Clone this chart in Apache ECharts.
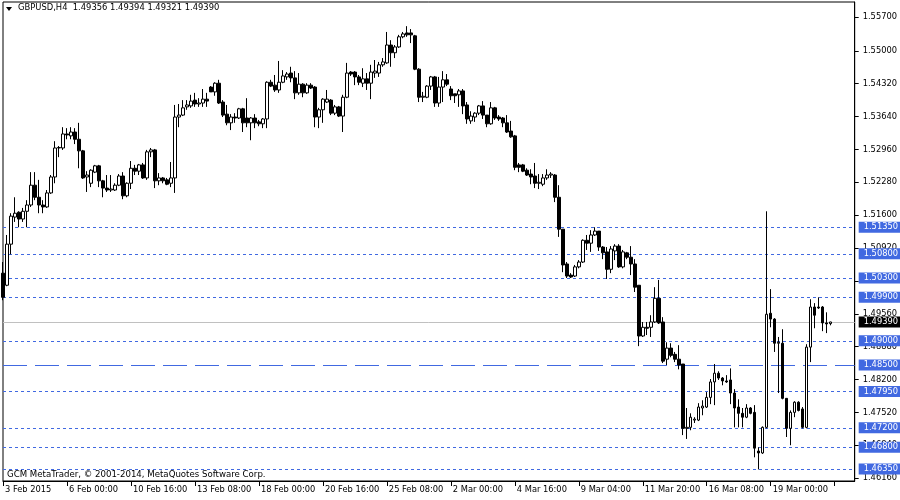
<!DOCTYPE html>
<html><head><meta charset="utf-8">
<script src="https://cdn.jsdelivr.net/npm/echarts@6/dist/echarts.min.js"></script>
<style>html,body{margin:0;padding:0;background:#fff}#c{width:900px;height:500px}</style>
</head><body><div id="c"></div>
<script>
const open=[1.5040,1.5015,1.5100,1.5156,1.5166,1.5152,1.5168,1.5181,1.5222,1.5197,
1.5181,1.5177,1.5206,1.5239,1.5299,1.5299,1.5328,1.5324,1.5332,1.5317,
1.5293,1.5239,1.5226,1.5249,1.5262,1.5231,1.5216,1.5212,1.5212,1.5222,
1.5241,1.5200,1.5226,1.5257,1.5251,1.5264,1.5237,1.5291,1.5295,1.5231,
1.5237,1.5233,1.5226,1.5237,1.5363,1.5367,1.5384,1.5386,1.5398,1.5390,
1.5392,1.5400,1.5425,1.5415,1.5433,1.5394,1.5369,1.5351,1.5363,1.5361,
1.5380,1.5361,1.5351,1.5361,1.5353,1.5349,1.5359,1.5435,1.5429,1.5419,
1.5435,1.5446,1.5454,1.5444,1.5413,1.5431,1.5413,1.5429,1.5425,1.5363,
1.5378,1.5394,1.5398,1.5371,1.5384,1.5365,1.5404,1.5456,1.5456,1.5446,
1.5433,1.5442,1.5433,1.5454,1.5454,1.5471,1.5475,1.5512,1.5496,1.5508,
1.5529,1.5537,1.5537,1.5531,1.5462,1.5404,1.5404,1.5427,1.5446,1.5392,
1.5425,1.5440,1.5421,1.5411,1.5409,1.5417,1.5388,1.5355,1.5363,1.5371,
1.5386,1.5367,1.5349,1.5382,1.5363,1.5361,1.5351,1.5334,1.5324,1.5264,
1.5264,1.5253,1.5245,1.5241,1.5226,1.5224,1.5237,1.5243,1.5243,1.5197,
1.5131,1.5059,1.5036,1.5034,1.5053,1.5063,1.5108,1.5102,1.5119,1.5127,
1.5094,1.5084,1.5048,1.5086,1.5096,1.5053,1.5082,1.5073,1.5059,1.5015,
1.4910,1.4928,1.4928,1.4939,1.4988,1.4939,1.4862,1.4885,1.4872,1.4862,
1.4852,1.4719,1.4721,1.4736,1.4736,1.4761,1.4763,1.4783,1.4815,1.4833,
1.4823,1.4817,1.4819,1.4792,1.4763,1.4750,1.4742,1.4761,1.4752,1.4672,
1.4668,1.4721,1.4957,1.4945,1.4895,1.4895,1.4781,1.4719,1.4752,1.4773,
1.4759,1.4721,1.4887,1.4970,1.4970,1.4970,1.4937,1.49356];
const high=[1.5063,1.5119,1.5164,1.5197,1.5168,1.5175,1.5191,1.5249,1.5249,1.5233,
1.5191,1.5212,1.5243,1.5313,1.5303,1.5342,1.5340,1.5342,1.5340,1.5351,
1.5295,1.5251,1.5255,1.5264,1.5264,1.5233,1.5243,1.5243,1.5226,1.5245,
1.5249,1.5228,1.5272,1.5264,1.5266,1.5268,1.5295,1.5299,1.5297,1.5247,
1.5239,1.5237,1.5270,1.5388,1.5390,1.5398,1.5398,1.5409,1.5413,1.5402,
1.5421,1.5413,1.5427,1.5435,1.5440,1.5398,1.5388,1.5369,1.5371,1.5382,
1.5382,1.5402,1.5363,1.5369,1.5357,1.5361,1.5437,1.5440,1.5450,1.5479,
1.5460,1.5456,1.5467,1.5458,1.5454,1.5433,1.5433,1.5433,1.5427,1.5382,
1.5402,1.5419,1.5400,1.5388,1.5386,1.5409,1.5475,1.5458,1.5458,1.5450,
1.5464,1.5454,1.5471,1.5481,1.5477,1.5485,1.5539,1.5522,1.5512,1.5533,
1.5539,1.5551,1.5545,1.5533,1.5464,1.5415,1.5429,1.5448,1.5448,1.5446,
1.5458,1.5452,1.5427,1.5411,1.5421,1.5421,1.5394,1.5375,1.5373,1.5388,
1.5396,1.5367,1.5394,1.5384,1.5367,1.5363,1.5367,1.5355,1.5326,1.5268,
1.5266,1.5257,1.5255,1.5268,1.5245,1.5245,1.5255,1.5249,1.5245,1.5222,
1.5131,1.5063,1.5040,1.5057,1.5067,1.5110,1.5119,1.5129,1.5135,1.5127,
1.5096,1.5094,1.5096,1.5100,1.5100,1.5088,1.5084,1.5096,1.5069,1.5015,
1.4939,1.4939,1.4953,1.5011,1.5026,1.4949,1.4897,1.4895,1.4877,1.4891,
1.4852,1.4761,1.4750,1.4742,1.4771,1.4777,1.4794,1.4821,1.4852,1.4837,
1.4825,1.4829,1.4843,1.4800,1.4779,1.4761,1.4769,1.4763,1.4767,1.4680,
1.4723,1.5168,1.5007,1.4947,1.4908,1.4924,1.4781,1.4756,1.4775,1.4775,
1.4763,1.4893,1.4986,1.4978,1.4990,1.4972,1.4959,1.49394];
const low=[1.4984,1.5013,1.5079,1.5146,1.5135,1.5146,1.5135,1.5177,1.5191,1.5164,
1.5164,1.5175,1.5204,1.5226,1.5280,1.5295,1.5317,1.5317,1.5307,1.5257,
1.5235,1.5208,1.5218,1.5247,1.5218,1.5197,1.5208,1.5208,1.5210,1.5220,
1.5193,1.5197,1.5214,1.5243,1.5243,1.5235,1.5233,1.5280,1.5216,1.5222,
1.5226,1.5222,1.5218,1.5206,1.5342,1.5365,1.5378,1.5382,1.5384,1.5384,
1.5384,1.5384,1.5415,1.5407,1.5390,1.5363,1.5346,1.5336,1.5351,1.5359,
1.5332,1.5342,1.5315,1.5340,1.5344,1.5340,1.5340,1.5425,1.5415,1.5413,
1.5433,1.5440,1.5435,1.5400,1.5409,1.5404,1.5411,1.5421,1.5342,1.5340,
1.5351,1.5392,1.5367,1.5367,1.5363,1.5332,1.5402,1.5448,1.5429,1.5429,
1.5425,1.5419,1.5400,1.5444,1.5446,1.5467,1.5473,1.5467,1.5485,1.5506,
1.5526,1.5529,1.5516,1.5460,1.5394,1.5394,1.5402,1.5419,1.5384,1.5384,
1.5394,1.5427,1.5398,1.5392,1.5384,1.5369,1.5349,1.5349,1.5353,1.5367,
1.5359,1.5342,1.5347,1.5357,1.5355,1.5342,1.5330,1.5320,1.5253,1.5249,
1.5249,1.5241,1.5224,1.5216,1.5214,1.5220,1.5233,1.5237,1.5187,1.5115,
1.5042,1.5030,1.5030,1.5032,1.5050,1.5061,1.5088,1.5084,1.5117,1.5086,
1.5069,1.5028,1.5040,1.5067,1.5051,1.5050,1.5069,1.5036,1.5001,1.4889,
1.4908,1.4912,1.4908,1.4937,1.4935,1.4854,1.4850,1.4866,1.4856,1.4841,
1.4705,1.4697,1.4715,1.4730,1.4734,1.4746,1.4761,1.4769,1.4767,1.4819,
1.4808,1.4813,1.4769,1.4721,1.4721,1.4721,1.4740,1.4748,1.4659,1.4634,
1.4666,1.4719,1.4928,1.4877,1.4792,1.4779,1.4701,1.4684,1.4742,1.4754,
1.4719,1.4719,1.4856,1.4926,1.4966,1.4920,1.4916,1.49321];
const close=[1.4990,1.5100,1.5158,1.5164,1.5152,1.5168,1.5181,1.5222,1.5197,1.5181,
1.5177,1.5206,1.5239,1.5299,1.5300,1.5328,1.5326,1.5332,1.5317,1.5293,
1.5237,1.5243,1.5253,1.5262,1.5231,1.5216,1.5212,1.5214,1.5222,1.5241,
1.5200,1.5226,1.5257,1.5251,1.5264,1.5237,1.5291,1.5295,1.5231,1.5237,
1.5231,1.5224,1.5237,1.5363,1.5367,1.5382,1.5388,1.5396,1.5390,1.5392,
1.5400,1.5396,1.5415,1.5433,1.5392,1.5367,1.5351,1.5363,1.5361,1.5380,
1.5351,1.5351,1.5361,1.5351,1.5349,1.5359,1.5435,1.5427,1.5419,1.5435,
1.5448,1.5452,1.5444,1.5413,1.5431,1.5413,1.5429,1.5423,1.5363,1.5378,
1.5400,1.5400,1.5371,1.5384,1.5365,1.5404,1.5454,1.5452,1.5446,1.5435,
1.5442,1.5433,1.5456,1.5458,1.5471,1.5477,1.5512,1.5496,1.5508,1.5529,
1.5535,1.5533,1.5533,1.5462,1.5404,1.5406,1.5427,1.5446,1.5392,1.5425,
1.5440,1.5431,1.5407,1.5407,1.5417,1.5386,1.5359,1.5365,1.5371,1.5386,
1.5367,1.5349,1.5382,1.5361,1.5359,1.5351,1.5332,1.5322,1.5259,1.5259,
1.5251,1.5243,1.5239,1.5226,1.5228,1.5237,1.5243,1.5245,1.5197,1.5131,
1.5057,1.5034,1.5032,1.5053,1.5063,1.5108,1.5102,1.5119,1.5127,1.5094,
1.5082,1.5048,1.5090,1.5096,1.5053,1.5084,1.5073,1.5059,1.5011,1.4910,
1.4928,1.4926,1.4939,1.4988,1.4937,1.4858,1.4885,1.4870,1.4862,1.4850,
1.4719,1.4721,1.4742,1.4738,1.4763,1.4765,1.4783,1.4815,1.4833,1.4823,
1.4817,1.4815,1.4792,1.4761,1.4750,1.4742,1.4761,1.4750,1.4678,1.4668,
1.4721,1.4955,1.4945,1.4895,1.4897,1.4781,1.4719,1.4752,1.4773,1.4756,
1.4721,1.4887,1.4970,1.4953,1.4968,1.4937,1.4935,1.49390];
const tickLabels=['3 Feb 2015','6 Feb 00:00','10 Feb 16:00','13 Feb 08:00','18 Feb 00:00','20 Feb 16:00','25 Feb 08:00','2 Mar 00:00','4 Mar 16:00','9 Mar 04:00','11 Mar 20:00','16 Mar 08:00','19 Mar 00:00'];
const priceTicks=[1.5570,1.5500,1.5432,1.5364,1.5296,1.5228,1.5160,1.5092,1.5024,1.4956,1.4888,1.4820,1.4752,1.4684,1.4616];
const levels=[1.5135,1.5080,1.5030,1.4990,1.4900,1.4795,1.4720,1.4680,1.4635];
const majorLevel=1.4850;
const lastPrice=1.4939;
const header='GBPUSD,H4  1.49356 1.49394 1.49321 1.49390';
const footer='GCM MetaTrader, \u00a9 2001-2014, MetaQuotes Software Corp.';

const BLUE='#4169E1';
const FONT='DejaVu Sans';
const slots=214;
const categories=Array.from({length:slots},(_,i)=>i);
const candles=open.map((o,i)=>[o,close[i],low[i],high[i]]);

const mlData=levels.map(v=>({yAxis:v,name:v.toFixed(5),
  lineStyle:{color:BLUE,type:[3,3],width:1},label:{backgroundColor:BLUE,color:'#fff'}}));
mlData.push({yAxis:majorLevel,name:majorLevel.toFixed(5),
  lineStyle:{color:BLUE,type:[24,8],width:1},label:{backgroundColor:BLUE,color:'#fff'}});
mlData.push({yAxis:lastPrice,name:lastPrice.toFixed(5),
  lineStyle:{color:'#c0c0c0',type:'solid',width:1},label:{backgroundColor:'#000',color:'#fff'}});

const chart=echarts.init(document.getElementById('c'),null,{renderer:'canvas'});
chart.setOption({
  animation:false,
  backgroundColor:'#fff',
  grid:{left:3,right:45,top:2,bottom:19,show:true,borderColor:'#000',borderWidth:1,backgroundColor:'transparent'},
  xAxis:{type:'category',data:categories,boundaryGap:false,
    axisLine:{show:true,lineStyle:{color:'#000',width:1}},
    axisTick:{show:true,interval:15,length:5,lineStyle:{color:'#000'}},
    axisLabel:{show:true,interval:15,align:'left',margin:5,padding:[0,0,0,2],
      fontFamily:FONT,fontSize:8.3,color:'#000',
      formatter:(v,idx)=>{const k=idx/16;return (Number.isInteger(k)&&k<tickLabels.length)?tickLabels[k]:'';}},
    splitLine:{show:false}},
  yAxis:{type:'value',position:'right',min:1.4610,max:1.5601,scale:true,z:0,
    axisLine:{show:true,lineStyle:{color:'#000',width:1}},
    axisTick:{show:true,length:4,customValues:priceTicks,lineStyle:{color:'#000'}},
    axisLabel:{show:true,margin:8,customValues:priceTicks,fontFamily:FONT,fontSize:8.3,color:'#000',
      formatter:v=>v.toFixed(5)},
    splitLine:{show:false}},
  graphic:[
    {type:'polygon',shape:{points:[[6,7],[12,7],[9,11]]},style:{fill:'#000'},z:100},
    {type:'text',left:18,top:4,style:{text:header,font:'8.4px "DejaVu Sans"',fill:'#000'},z:100},
    {type:'text',left:7,top:470,style:{text:footer,font:'8.6px "DejaVu Sans"',fill:'#000'},z:100}
  ],
  series:[{
    type:'candlestick',data:candles,barWidth:3,z:5,zlevel:1,
    itemStyle:{color:'#fff',color0:'#000',borderColor:'#000',borderColor0:'#000',borderWidth:1},
    markLine:{silent:true,symbol:['none','none'],precision:5,animation:false,z:10,
      label:{show:true,position:'end',distance:4,formatter:'{b}',fontFamily:FONT,fontSize:8.3,
        padding:[2,4,1,5]},
      emphasis:{disabled:true},
      data:mlData}
  }]
});
</script></body></html>
